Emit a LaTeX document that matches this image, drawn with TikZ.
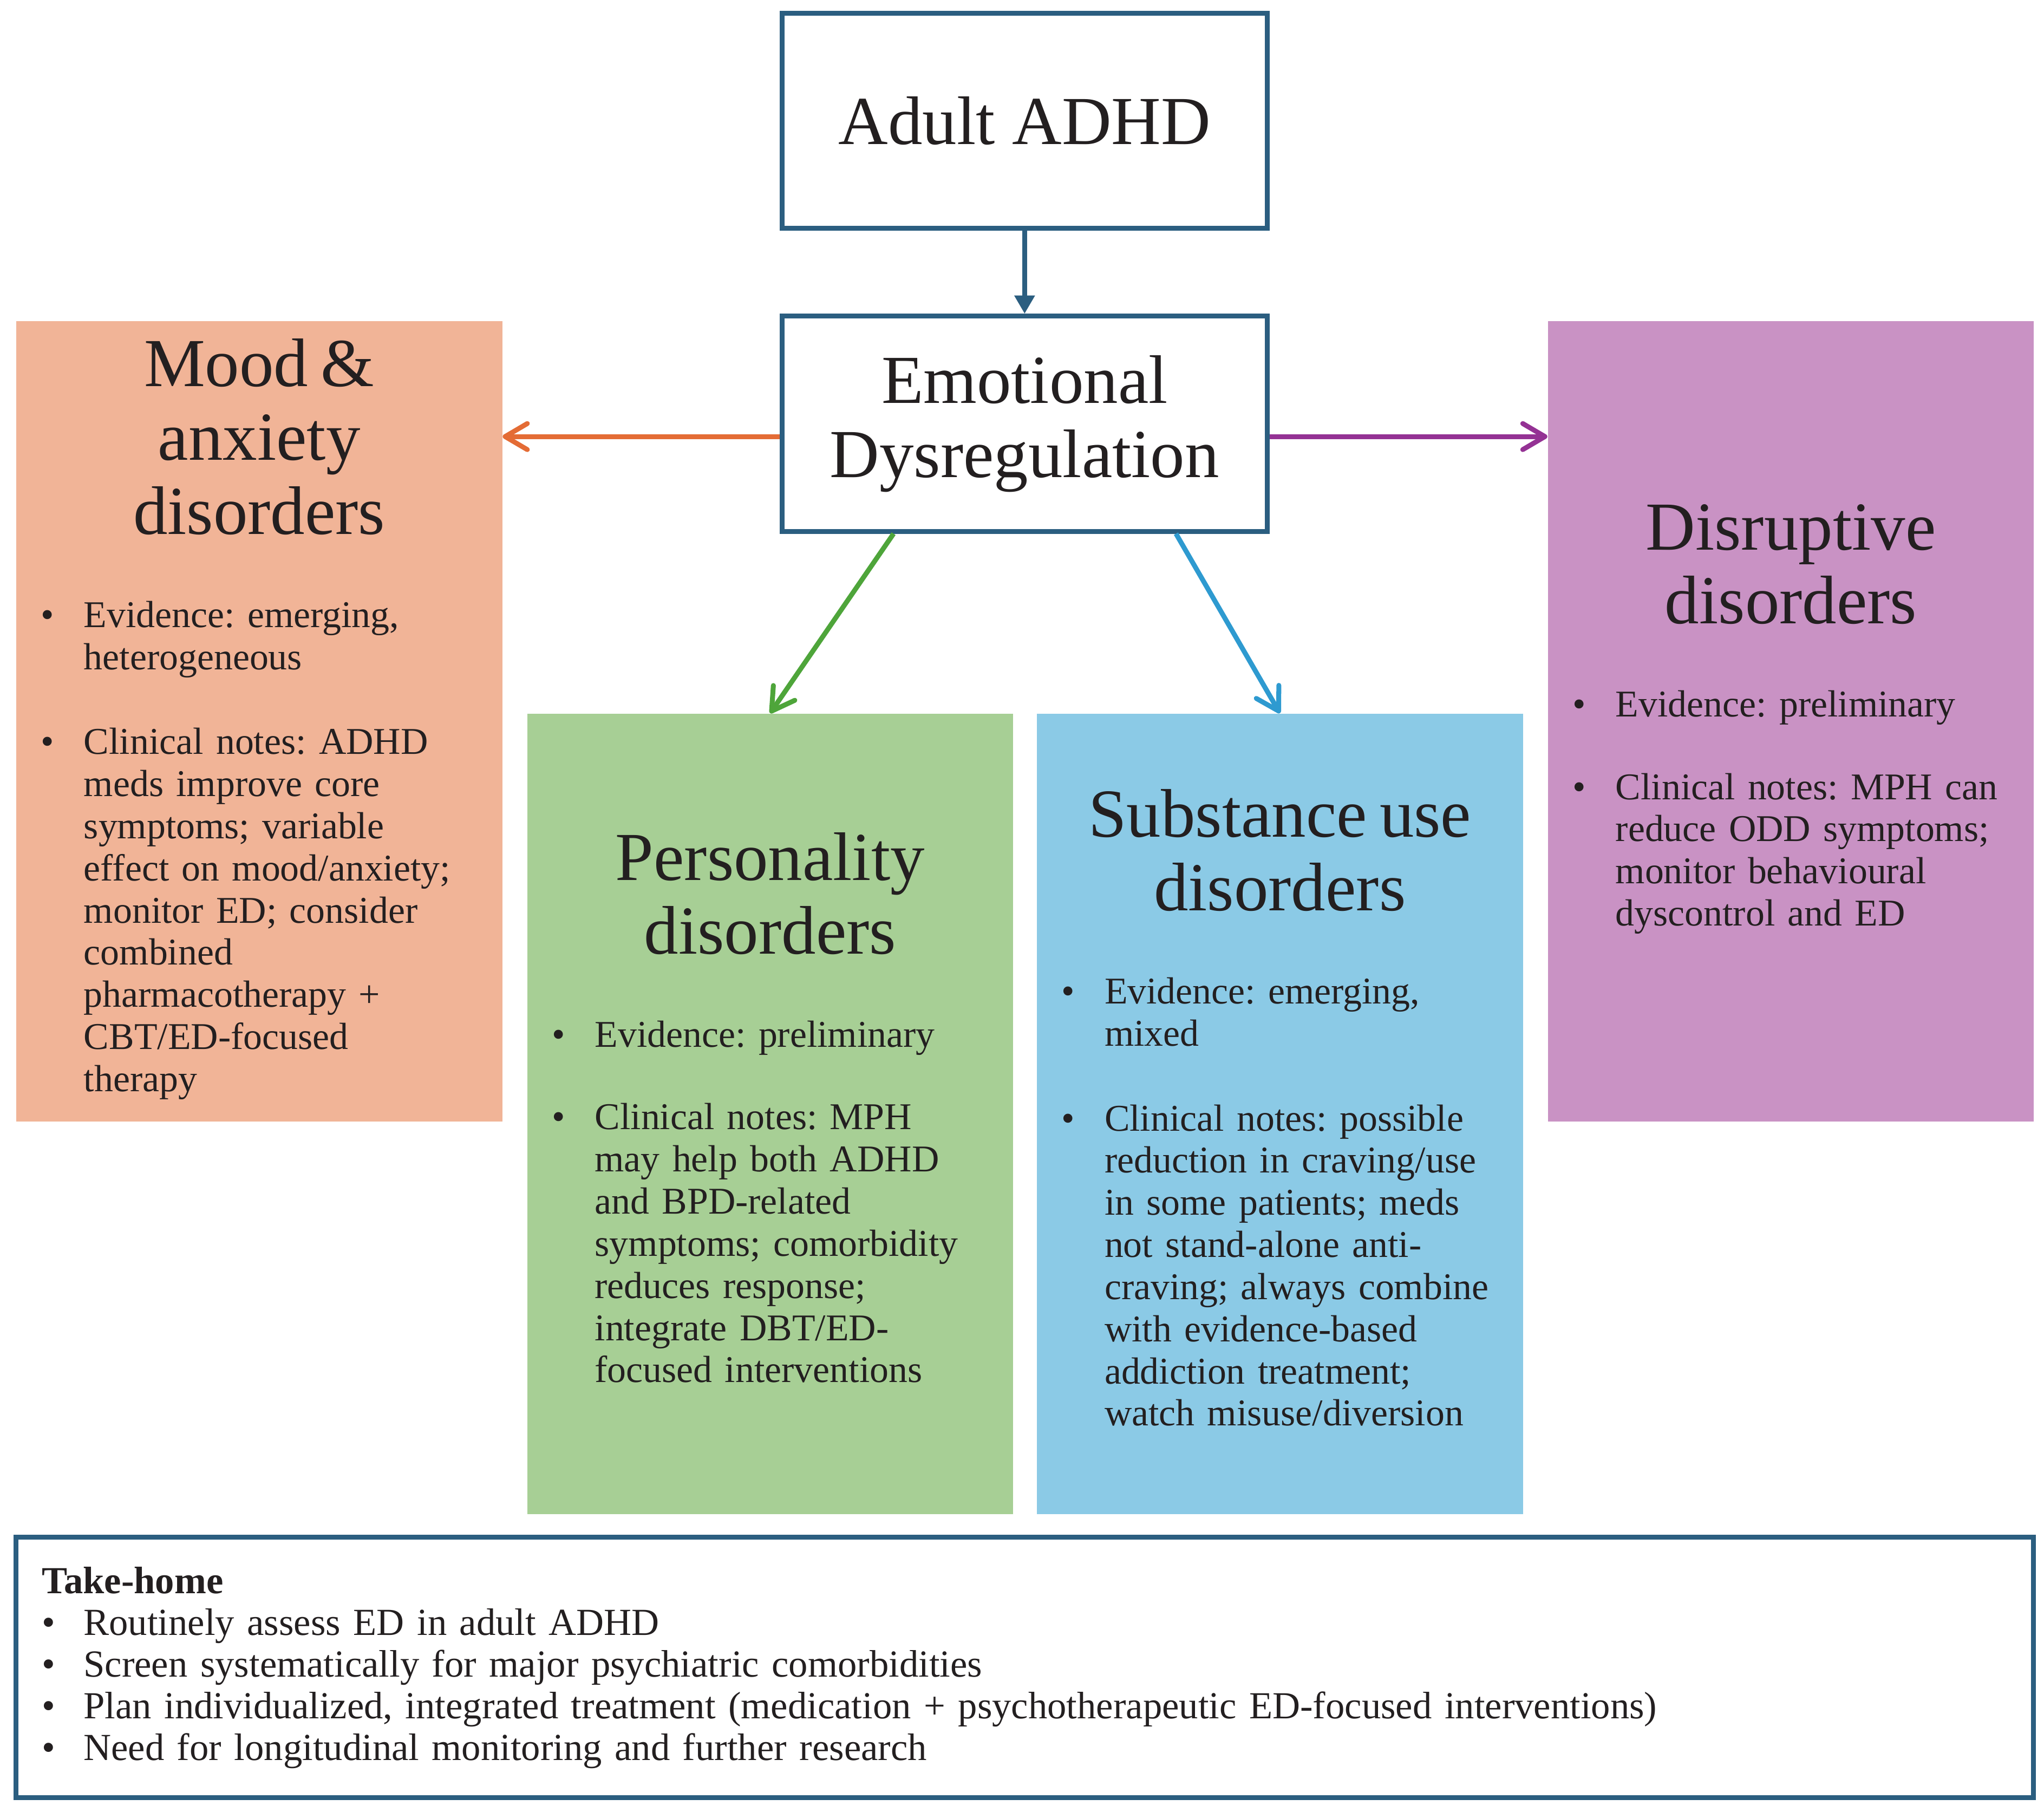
\documentclass[tikz,border=0pt]{standalone}
\usepackage{fontspec}
\setmainfont{Liberation Serif}
\usepackage{tikz}
\usetikzlibrary{arrows.meta}

\definecolor{edblue}{HTML}{2B5E80}
\definecolor{ink}{HTML}{231F20}
\definecolor{moodfill}{HTML}{F1B497}
\definecolor{persfill}{HTML}{A7CF95}
\definecolor{subsfill}{HTML}{8BCAE6}
\definecolor{disrfill}{HTML}{C992C4}
\definecolor{moodline}{HTML}{E46C35}
\definecolor{persline}{HTML}{4EA53A}
\definecolor{subsline}{HTML}{2E9AD0}
\definecolor{disrline}{HTML}{943294}

\frenchspacing
\setlength{\parindent}{0pt}
\newcommand{\boxhead}[1]{{\centering\fontsize{30}{32.3}\selectfont #1\par}\vspace{0.16cm}}
\newcommand{\bul}[1]{\par\vspace{0.62cm}\noindent\makebox[0.66cm][l]{\textbullet}\begin{tabular}[t]{@{}l@{}}#1\end{tabular}\par}
\newcommand{\hbul}[1]{\par\noindent\makebox[0.64cm][l]{\textbullet}#1\par}

\begin{document}
\begin{tikzpicture}[x=0.02cm,y=-0.02cm,
  mainbox/.style={draw=edblue, line width=0.075cm, minimum width=7.45cm, minimum height=3.3cm,
    align=center, text=ink, font=\fontsize{30}{32.3}\selectfont},
  cbox/.style={anchor=north west, text width=6.7cm, minimum height=12.28cm, inner xsep=0.38cm,
    inner ysep=0pt, align=left, text=ink, font=\fontsize{16.5}{18.4}\selectfont},
  carrow/.style={line width=0.075cm, -{Straight Barb[length=0.34cm,width=0.4cm,round]}}]

\useasboundingbox (0,0) rectangle (1568,1389.8);

\node[mainbox] (adhd) at (786,92.5) {Adult ADHD};
\node[mainbox] (ed) at (786,325) {Emotional\\Dysregulation};

\node[cbox, fill=moodfill] (mood) at (12,246) {%
\boxhead{Mood \&\\anxiety\\disorders}
\bul{Evidence: emerging,\\heterogeneous}
\bul{Clinical notes: ADHD\\meds improve core\\symptoms; variable\\effect on mood/anxiety;\\monitor ED; consider\\combined\\pharmacotherapy +\\CBT/ED-focused\\therapy}};

\node[cbox, fill=persfill] (pers) at (404,547) {%
\boxhead{Personality\\disorders}
\bul{Evidence: preliminary}
\bul{Clinical notes: MPH\\may help both ADHD\\and BPD-related\\symptoms; comorbidity\\reduces response;\\integrate DBT/ED-\\focused interventions}};

\node[cbox, fill=subsfill] (subs) at (795,547) {%
\boxhead{Substance use\\disorders}
\bul{Evidence: emerging,\\mixed}
\bul{Clinical notes: possible\\reduction in craving/use\\in some patients; meds\\not stand-alone anti-\\craving; always combine\\with evidence-based\\addiction treatment;\\watch misuse/diversion}};

\node[cbox, fill=disrfill] (disr) at (1187,246) {%
\boxhead{Disruptive\\disorders}
\bul{Evidence: preliminary}
\bul{Clinical notes: MPH can\\reduce ODD symptoms;\\monitor behavioural\\dyscontrol and ED}};

\node[draw=edblue, line width=0.075cm, text width=30.16cm, minimum height=4.0cm, inner xsep=0.4cm,
  align=left, text=ink, font=\fontsize{16.7}{18.2}\selectfont] (home) at (786,1279) {%
\textbf{Take-home}
\hbul{Routinely assess ED in adult ADHD}
\hbul{Screen systematically for major psychiatric comorbidities}
\hbul{Plan individualized, integrated treatment (medication + psychotherapeutic ED-focused interventions)}
\hbul{Need for longitudinal monitoring and further research}};

\draw[edblue, line width=0.075cm, -{Triangle[length=0.28cm,width=0.3cm]}] (adhd) -- (ed);
\draw[carrow, moodline] (ed.183.6) -- (ed.183.6 -| mood.east);
\draw[carrow, disrline] (ed.-3.6) -- (ed.-3.6 -| disr.west);
\draw[carrow, persline] (ed.-140.5) -- (pers.north);
\draw[carrow, subsline] (ed.-36.9) -- (subs.north);
\end{tikzpicture}
\end{document}
